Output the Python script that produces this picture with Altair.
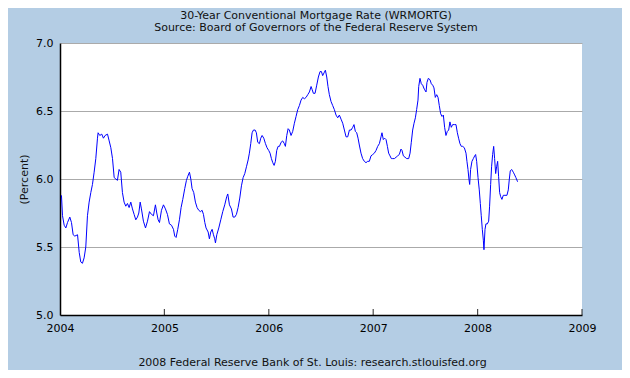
import altair as alt
import pandas as pd

# Weekly 30-year conventional mortgage rate
years = [
    2004.014, 2004.024, 2004.040, 2004.056, 2004.072, 2004.094, 2004.110, 2004.126, 2004.142, 2004.168,
    2004.184, 2004.199, 2004.215, 2004.231, 2004.247, 2004.263, 2004.279, 2004.295, 2004.311, 2004.327,
    2004.343, 2004.359, 2004.365, 2004.381, 2004.400, 2004.416, 2004.432, 2004.455, 2004.471, 2004.487,
    2004.503, 2004.519, 2004.535, 2004.550, 2004.566, 2004.582, 2004.598, 2004.614, 2004.630, 2004.646,
    2004.662, 2004.678, 2004.694, 2004.710, 2004.726, 2004.742,
    2004.755, 2004.768, 2004.780, 2004.799, 2004.819, 2004.838, 2004.857, 2004.876, 2004.895, 2004.914,
    2004.927, 2004.940, 2004.953, 2004.972, 2004.991, 2005.010, 2005.029, 2005.048, 2005.068, 2005.087,
    2005.099, 2005.112, 2005.128, 2005.144, 2005.160, 2005.176, 2005.195, 2005.211, 2005.224, 2005.240,
    2005.253, 2005.265, 2005.281, 2005.297, 2005.313, 2005.329, 2005.345, 2005.361, 2005.374, 2005.387,
    2005.399, 2005.419, 2005.431, 2005.444, 2005.457, 2005.470, 2005.482,
    2005.489, 2005.502, 2005.521, 2005.540, 2005.559, 2005.578, 2005.597, 2005.607, 2005.623, 2005.642,
    2005.658, 2005.674, 2005.690, 2005.706, 2005.722, 2005.738, 2005.754, 2005.770, 2005.786, 2005.802,
    2005.814, 2005.827, 2005.840, 2005.853, 2005.869, 2005.881, 2005.894, 2005.910, 2005.923, 2005.936,
    2005.952, 2005.968, 2005.983, 2005.999, 2006.012, 2006.025, 2006.038, 2006.051, 2006.063, 2006.076,
    2006.089, 2006.102, 2006.118, 2006.133, 2006.149, 2006.159, 2006.172, 2006.185, 2006.197, 2006.213,
    2006.229, 2006.245, 2006.261, 2006.277, 2006.293, 2006.309, 2006.325, 2006.341, 2006.357, 2006.373,
    2006.389, 2006.405, 2006.414, 2006.427, 2006.443, 2006.459, 2006.475, 2006.491, 2006.504, 2006.516,
    2006.529, 2006.542, 2006.555, 2006.567, 2006.580, 2006.596, 2006.612, 2006.628, 2006.644, 2006.660,
    2006.676, 2006.692, 2006.708, 2006.724, 2006.740, 2006.756, 2006.772, 2006.788, 2006.804, 2006.816,
    2006.829, 2006.842, 2006.855, 2006.867,
    2006.883, 2006.899, 2006.915, 2006.931, 2006.947, 2006.963, 2006.979, 2006.995, 2007.011, 2007.027,
    2007.043, 2007.059, 2007.075, 2007.084, 2007.097, 2007.110, 2007.123, 2007.136, 2007.148, 2007.161,
    2007.174, 2007.187, 2007.203, 2007.219, 2007.234, 2007.250, 2007.266, 2007.276, 2007.289, 2007.305,
    2007.321, 2007.340, 2007.353, 2007.365, 2007.378, 2007.391, 2007.404, 2007.416, 2007.429, 2007.436,
    2007.448, 2007.461, 2007.474, 2007.490, 2007.506, 2007.515, 2007.528, 2007.544, 2007.557, 2007.570,
    2007.582, 2007.595, 2007.608, 2007.621, 2007.633, 2007.646, 2007.659, 2007.672, 2007.684, 2007.697,
    2007.710, 2007.723, 2007.735, 2007.748, 2007.761, 2007.777, 2007.793, 2007.806, 2007.818, 2007.831,
    2007.844, 2007.857, 2007.873, 2007.889, 2007.898, 2007.908, 2007.917, 2007.924, 2007.933, 2007.946,
    2007.959, 2007.972, 2007.981, 2007.991, 2008.004, 2008.016, 2008.026, 2008.035, 2008.045, 2008.055,
    2008.061, 2008.071, 2008.080, 2008.093, 2008.106, 2008.115, 2008.125, 2008.134, 2008.144, 2008.154,
    2008.163, 2008.173, 2008.182, 2008.192, 2008.201, 2008.211, 2008.221, 2008.233, 2008.246, 2008.262,
    2008.281, 2008.294, 2008.304, 2008.313, 2008.326, 2008.342, 2008.355, 2008.367, 2008.383,
]

rates = [
    5.88, 5.73, 5.66, 5.64, 5.68, 5.72, 5.68, 5.59, 5.58, 5.59,
    5.46, 5.39, 5.38, 5.42, 5.50, 5.73, 5.83, 5.90, 5.96, 6.05,
    6.15, 6.30, 6.34, 6.32, 6.33, 6.30, 6.32, 6.33, 6.28, 6.23,
    6.15, 6.01, 6.00, 5.99, 6.07, 6.05, 5.90, 5.83, 5.80, 5.82,
    5.79, 5.83, 5.78, 5.74, 5.70, 5.72,
    5.75, 5.83, 5.78, 5.69, 5.64, 5.69, 5.76, 5.74, 5.73, 5.81,
    5.75, 5.70, 5.68, 5.77, 5.81, 5.78, 5.74, 5.67, 5.66, 5.63,
    5.58, 5.57, 5.63, 5.70, 5.79, 5.85, 5.93, 5.99, 6.02, 6.05,
    6.00, 5.93, 5.90, 5.83, 5.79, 5.77, 5.76, 5.77, 5.74, 5.68,
    5.64, 5.61, 5.56, 5.61, 5.63, 5.59, 5.56,
    5.53, 5.59, 5.64, 5.70, 5.76, 5.81, 5.87, 5.89, 5.81, 5.78,
    5.72, 5.72, 5.74, 5.79, 5.86, 5.95, 6.01, 6.04, 6.09, 6.14,
    6.19, 6.26, 6.34, 6.36, 6.36, 6.34, 6.27, 6.26, 6.30, 6.32,
    6.30, 6.26, 6.23, 6.21, 6.19, 6.15, 6.12, 6.10, 6.13, 6.21,
    6.24, 6.24, 6.27, 6.28, 6.26, 6.24, 6.32, 6.37, 6.36, 6.32,
    6.35, 6.41, 6.46, 6.51, 6.54, 6.58, 6.60, 6.59, 6.60, 6.62,
    6.64, 6.68, 6.66, 6.63, 6.63, 6.69, 6.75, 6.79, 6.79, 6.76,
    6.78, 6.80, 6.75, 6.68, 6.62, 6.57, 6.54, 6.51, 6.47, 6.45,
    6.47, 6.44, 6.41, 6.36, 6.31, 6.31, 6.36, 6.36, 6.38, 6.40,
    6.35, 6.34, 6.30, 6.25,
    6.19, 6.15, 6.13, 6.12, 6.13, 6.13, 6.17, 6.18, 6.19, 6.21,
    6.24, 6.26, 6.31, 6.34, 6.29, 6.30, 6.29, 6.24, 6.19, 6.17,
    6.15, 6.15, 6.15, 6.16, 6.17, 6.18, 6.22, 6.21, 6.17, 6.16,
    6.15, 6.15, 6.19, 6.27, 6.36, 6.41, 6.45, 6.51, 6.58, 6.68,
    6.74, 6.70, 6.69, 6.66, 6.64, 6.71, 6.74, 6.73, 6.70, 6.69,
    6.67, 6.60, 6.62, 6.60, 6.54, 6.48, 6.46, 6.47, 6.38, 6.32,
    6.35, 6.36, 6.42, 6.38, 6.40, 6.40, 6.40, 6.34, 6.30, 6.26,
    6.24, 6.24, 6.23, 6.19, 6.13, 6.07, 6.00, 5.96, 6.07, 6.13,
    6.15, 6.17, 6.18, 6.13, 6.01, 5.92, 5.82, 5.73, 5.63, 5.55,
    5.48, 5.63, 5.67, 5.67, 5.69, 5.80, 5.96, 6.09, 6.18, 6.24,
    6.15, 6.04, 6.09, 6.13, 6.02, 5.90, 5.87, 5.85, 5.88, 5.88,
    5.88, 5.92, 6.00, 6.06, 6.07, 6.05, 6.03, 6.01, 5.98,
]

x_tick_values = [2004, 2005, 2006, 2007, 2008, 2009]
inner_ticks = [2005, 2006, 2007, 2008, 2009]
y_tick_values = [5.0, 5.5, 6.0, 6.5, 7.0]

title_text = "30-Year Conventional Mortgage Rate (WRMORTG)"
subtitle_text = "Source: Board of Governors of the Federal Reserve System"
footer_text = "2008 Federal Reserve Bank of St. Louis: research.stlouisfed.org"
y_title = "(Percent)"

FONT = "DejaVu Sans"
BG = "#B4CDE4"

df = pd.DataFrame({"year": years, "rate": rates})
ticks_df = pd.DataFrame({"year": inner_ticks, "rate": [5.0] * len(inner_ticks)})

x_scale = alt.Scale(domain=[2004, 2009], nice=False, zero=False)
y_scale = alt.Scale(domain=[5.0, 7.0], nice=False, zero=False)

line = alt.Chart(df).mark_line(color="#0000FF", strokeWidth=1, clip=True).encode(
    x=alt.X(
        "year:Q",
        scale=x_scale,
        axis=alt.Axis(
            values=x_tick_values,
            format="d",
            title=footer_text,
            titleFontWeight="normal",
            titleFontSize=11,
            titlePadding=23,
            titleX=252,
            labelPadding=7,
            labelFlush=False,
            ticks=False,
            grid=False,
        ),
    ),
    y=alt.Y(
        "rate:Q",
        scale=y_scale,
        axis=alt.Axis(
            values=y_tick_values,
            format=".1f",
            title=y_title,
            titleFontWeight="normal",
            titleFontSize=11,
            titlePadding=6,
            labelPadding=7,
            ticks=False,
            grid=True,
            gridColor="#AAAAAA",
            gridWidth=1,
        ),
    ),
)

tick_marks = alt.Chart(ticks_df).mark_tick(
    orient="vertical", color="#000000", size=6, thickness=1.2, yOffset=-3
).encode(
    x=alt.X("year:Q", scale=x_scale),
    y=alt.Y("rate:Q", scale=y_scale),
)

chart = (
    alt.layer(line, tick_marks)
    .properties(
        width=522,
        height=272,
        title=alt.TitleParams(
            text=title_text,
            subtitle=subtitle_text,
            font=FONT,
            fontSize=11,
            fontWeight="normal",
            color="#111111",
            subtitleFont=FONT,
            subtitleFontSize=11,
            subtitleColor="#111111",
            subtitlePadding=1,
            anchor="middle",
            offset=4,
            dx=-5,
        ),
        autosize=alt.AutoSizeParams(type="none"),
        padding={"left": 52, "top": 35, "right": 40, "bottom": 55},
        background=BG,
    )
    .configure_view(stroke=None, fill="#FFFFFF")
    .configure_axis(
        labelFont=FONT,
        labelFontSize=11,
        labelColor="#000000",
        titleFont=FONT,
        titleColor="#111111",
        domainColor="#000000",
        domainWidth=1.5,
    )
)

chart.save("out.html", embed_options={"renderer": "svg", "actions": False})
